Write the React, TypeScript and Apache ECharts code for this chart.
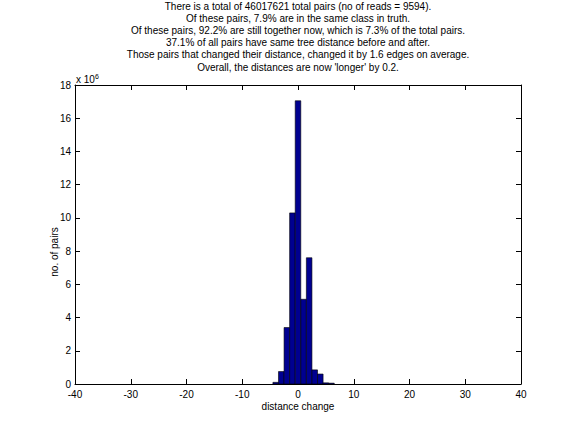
import React, { useEffect, useRef } from "react";
import * as echarts from "echarts";

const binCenters = [-4, -3, -2, -1, 0, 1, 2, 3, 4, 5, 6];
const pairCounts = [100000, 750000, 3400000, 10300000, 17050000, 5100000, 7600000, 850000, 600000, 70000, 50000];
const xTicks = [-40, -30, -20, -10, 0, 10, 20, 30, 40];
const yTicks = [0, 2, 4, 6, 8, 10, 12, 14, 16, 18];
const titleLines = [
  "There is a total of 46017621 total pairs (no of reads = 9594).",
  "Of these pairs, 7.9% are in the same class in truth.",
  "Of these pairs, 92.2% are still together now, which is 7.3% of the total pairs.",
  "37.1% of all pairs have same tree distance before and after.",
  "Those pairs that changed their distance, changed it by 1.6 edges on average.",
  "Overall, the distances are now 'longer' by 0.2.",
];
const xLabel = "distance change";
const yLabel = "no. of pairs";

const FONT = "Liberation Sans, Arial, sans-serif";

export default function App() {
  const ref = useRef<HTMLDivElement>(null);
  useEffect(() => {
    if (!ref.current) return;
    const chart = echarts.init(ref.current, undefined, { renderer: "svg" });
    const data = binCenters.map((c, i) => [c, pairCounts[i]]);
    const axisCommon = {
      axisLine: { show: true, onZero: false, lineStyle: { color: "#000", width: 1 } },
      axisTick: { show: true, inside: true, length: 5, lineStyle: { color: "#000" } },
      splitLine: { show: false },
    };
    const xMin = xTicks[0], xMax = xTicks[xTicks.length - 1];
    const yMax = yTicks[yTicks.length - 1] * 1e6;
    chart.setOption({
      animation: false,
      backgroundColor: "#fff",
      grid: { left: 75, right: 55, top: 85, bottom: 48 },
      xAxis: [
        {
          type: "value", min: xMin, max: xMax, interval: 10, position: "bottom",
          ...axisCommon,
          axisLabel: { color: "#000", fontFamily: FONT, fontSize: 10, margin: 5 },
        },
        {
          type: "value", min: xMin, max: xMax, interval: 10, position: "top",
          ...axisCommon, axisLabel: { show: false },
        },
      ],
      yAxis: [
        {
          type: "value", min: 0, max: yMax, interval: 2e6, position: "left",
          ...axisCommon,
          axisLabel: { color: "#000", fontFamily: FONT, fontSize: 10, margin: 4, formatter: (v: number) => String(Math.round(v / 1e6)) },
        },
        {
          type: "value", min: 0, max: yMax, interval: 2e6, position: "right",
          ...axisCommon, axisLabel: { show: false },
        },
      ],
      series: [
        {
          type: "custom",
          xAxisIndex: 0,
          yAxisIndex: 0,
          data,
          renderItem: (params: any, api: any) => {
            const x = api.value(0);
            const y = api.value(1);
            const p1 = api.coord([x - 0.5, y]);
            const p2 = api.coord([x + 0.5, 0]);
            return {
              type: "rect",
              shape: { x: p1[0], y: p1[1], width: p2[0] - p1[0], height: p2[1] - p1[1] },
              style: { fill: "#000090", stroke: "#000", lineWidth: 0.6 },
            };
          },
        },
      ],
      graphic: [
        ...titleLines.map((t, i) => ({
          type: "text",
          x: 298,
          y: 6 + i * 12.2,
          style: { text: t, fill: "#000", font: `10px ${FONT}`, textAlign: "center", textVerticalAlign: "middle" },
        })),
        {
          type: "text",
          x: 298,
          y: 406,
          style: { text: xLabel, fill: "#000", font: `10px ${FONT}`, textAlign: "center", textVerticalAlign: "middle" },
        },
        {
          type: "text",
          x: 54,
          y: 252,
          rotation: Math.PI / 2,
          style: { text: yLabel, fill: "#000", font: `10px ${FONT}`, textAlign: "center", textVerticalAlign: "middle" },
        },
        {
          type: "text",
          x: 76,
          y: 73,
          style: {
            text: "x 10{s|6}",
            fill: "#000",
            font: `10px ${FONT}`,
            rich: { s: { fontSize: 7, fontFamily: FONT, verticalAlign: "top", padding: [0, 0, 6, 0] } },
          },
        },
      ],
    });
    return () => chart.dispose();
  }, []);
  return <div ref={ref} style={{ width: 576, height: 432, position: "absolute", left: 0, top: 0 }} />;
}
